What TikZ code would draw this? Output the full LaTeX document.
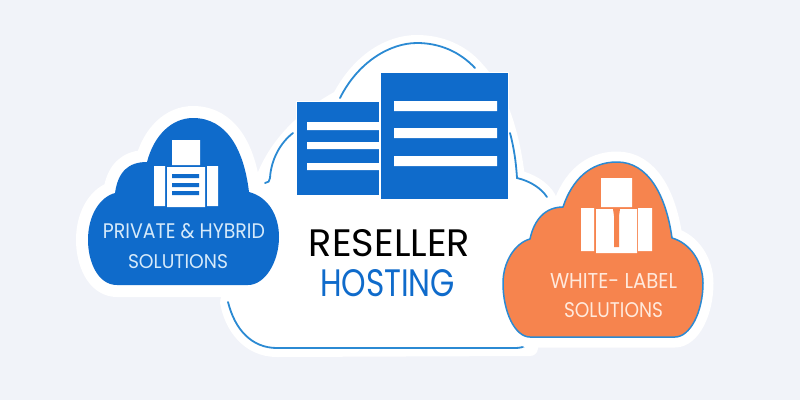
\documentclass[tikz,border=0pt]{standalone}
\usepackage{fontspec}
\setmainfont{Poppins}
\definecolor{pagebg}{HTML}{F1F3F9}
\definecolor{deepblue}{HTML}{0F6BCB}
\definecolor{lineblue}{HTML}{2B8AD3}
\definecolor{tangerine}{HTML}{F6844E}
\definecolor{paletext}{HTML}{D6EAFA}
\definecolor{peachtext}{HTML}{FFE9DC}
\newcommand{\fitlabel}[3]{\resizebox{#1pt}{#2pt}{#3}}
\tikzset{
  x=1pt,y=-1pt,
  halo/.style={draw=white,line join=round,fill=white},
  rim/.style={draw=lineblue,line width=1.8pt,line cap=round},
  srv/.style={fill=deepblue,draw=white,line width=1pt},
  sheet/.style={fill=white,draw=none},
  lbl/.style={inner sep=0pt,anchor=center}
}
% outlines shared by each cloud's halo and its fill
\def\leftcloud{(117,285) .. controls (98,285) and (88,262) .. (88,240)
  .. controls (88,215) and (100,197) .. (115,193)
  .. controls (118,172) and (128,162) .. (147,162)
  .. controls (154,135) and (172,118) .. (193,118)
  .. controls (227,118) and (244,150) .. (249,192)
  .. controls (268,197) and (279,215) .. (279,237)
  .. controls (279,262) and (265,285) .. (248,285) -- cycle}
\def\rightcloud{(530,337) .. controls (515,337) and (503,312) .. (503,283)
  .. controls (503,262) and (515,243) .. (530,239)
  .. controls (534,220) and (545,207) .. (563,207)
  .. controls (572,180) and (590,162) .. (617,162)
  .. controls (648,162) and (666,195) .. (672,238)
  .. controls (690,243) and (703,262) .. (703,283)
  .. controls (703,312) and (690,337) .. (675,337) -- cycle}
\begin{document}
\begin{tikzpicture}
\useasboundingbox (0,0) rectangle (800,400);
\fill[pagebg] (0,0) rectangle (800,400);

% main cloud body and its broken outline
\path[halo,line width=16pt]
  (277,349) .. controls (248,349) and (232,325) .. (228,302)
  -- (262,184) .. controls (270,160) and (290,125) .. (340,98)
  .. controls (360,60) and (390,43) .. (417,43)
  .. controls (440,43) and (462,52) .. (477,70)
  .. controls (500,95) and (512,135) .. (517,178)
  .. controls (530,181) and (542,188) .. (548,198)
  -- (530,348) -- cycle;
\draw[rim] (340,98) .. controls (358,62) and (390,43) .. (417,43)
  .. controls (440,43) and (460,52) .. (475,68);
\draw[rim] (293,133) .. controls (280,143) and (271,160) .. (270,178)
  .. controls (270,181) and (268,183) .. (265,183);
\draw[rim] (510,133) .. controls (514,148) and (516,162) .. (517,178)
  .. controls (530,181) and (541,188) .. (547,197);
\draw[rim] (228,302) .. controls (235,330) and (252,348) .. (277,348)
  -- (515,348) .. controls (520,348) and (523,347) .. (525,346);

% server stack
\draw[srv] (296,101) rectangle (379,195);
\fill[sheet] (307,122) rectangle (379,130) (307,142) rectangle (379,149) (307,163) rectangle (379,170);
\draw[srv] (380,72) rectangle (508,199);
\fill[sheet] (394,101) rectangle (497,111) (394,128) rectangle (497,138) (394,156) rectangle (497,166);

\node[lbl] (title) at (389.5,243) {\fitlabel{161}{27}{RESELLER}};
\node[lbl,text=deepblue] (subtitle) at (387.5,283) {\fitlabel{135}{27}{HOSTING}};

% left cloud
\path[halo,line width=24pt] \leftcloud;
\fill[deepblue] \leftcloud;
\fill[sheet] (172,140) rectangle (200,165) (154,166) rectangle (165,206)
  (207,166) rectangle (218,206) (167,167) rectangle (205,207);
\fill[deepblue] (172,174) rectangle (199,178) (172,183) rectangle (199,187) (172,191) rectangle (199,195);
\node[lbl,text=paletext] (privlabel) at (184,231.5) {\fitlabel{162}{15}{PRIVATE \& HYBRID}};
\node[lbl,text=paletext] (privsol) at (178,261.5) {\fitlabel{100}{14}{SOLUTIONS}};

% right cloud
\path[halo,line width=21pt] \rightcloud;
\draw[fill=tangerine,draw=lineblue,line width=1.5pt,line join=round] \rightcloud;
\fill[sheet] (601,178) rectangle (632,207) (581,208) rectangle (594,251)
  (638,208) rectangle (652,251) (596,209) rectangle (637,253);
\fill[tangerine] (613,209) -- (620,209) -- (619,216) -- (619,247) -- (614,247) -- (614,216) -- cycle;
\node[lbl,text=peachtext] (whitelabel) at (613.5,281) {\fitlabel{127}{15}{WHITE- LABEL}};
\node[lbl,text=peachtext] (whitesol) at (613.5,310.5) {\fitlabel{99}{15}{SOLUTIONS}};
\end{tikzpicture}
\end{document}
